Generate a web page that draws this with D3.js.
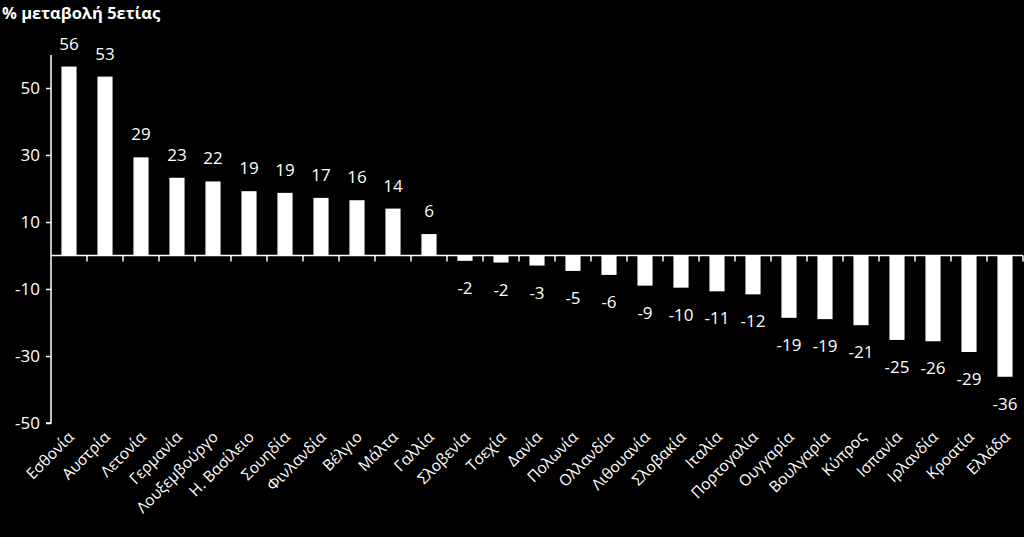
<!DOCTYPE html>
<html><head><meta charset="utf-8">
<script src="https://cdn.jsdelivr.net/npm/d3@7"></script>
<style>
html,body{margin:0;padding:0;background:#000;}
svg{display:block;}
text{font-family:"Open Sans",sans-serif;fill:#fff;}
</style></head>
<body>
<svg id="c" width="1024" height="537"></svg>
<script>
const categories = ["Εσθονία","Αυστρία","Λετονία","Γερμανία","Λουξεμβούργο","Η. Βασίλειο","Σουηδία","Φινλανδία","Βέλγιο","Μάλτα","Γαλλία","Σλοβενία","Τσεχία","Δανία","Πολωνία","Ολλανδία","Λιθουανία","Σλοβακία","Ιταλία","Πορτογαλία","Ουγγαρία","Βουλγαρία","Κύπρος","Ισπανία","Ιρλανδία","Κροατία","Ελλάδα"];
const values = [56.4,53.4,29.3,23.2,22.1,19.2,18.7,17.2,16.5,14.0,6.4,-1.6,-2.1,-3.0,-4.6,-5.8,-9.0,-9.6,-10.7,-11.6,-18.6,-19.0,-20.8,-25.2,-25.6,-28.8,-36.2];
const labels = ["56","53","29","23","22","19","19","17","16","14","6","-2","-2","-3","-5","-6","-9","-10","-11","-12","-19","-19","-21","-25","-26","-29","-36"];
const yTicks = [50,30,10,-10,-30,-50];
const title = "% μεταβολή 5ετίας";

const svg = d3.select("#c");
const x = d3.scaleBand().domain(categories).range([51,1023]).paddingInner(0.58).paddingOuter(0.29);
const y = d3.scaleLinear().domain([-50,50]).range([423,88]);

svg.append("text").attr("x",2).attr("y",19).attr("font-size",16.5).attr("font-weight","bold").text(title);

// y axis
const ya = svg.append("g").attr("transform","translate(51,0)")
  .call(d3.axisLeft(y).tickValues(yTicks).tickSize(5).tickPadding(6).tickFormat(d=>String(d)));
ya.select(".domain").attr("stroke","#fff").attr("stroke-width",1.5).attr("d","M-5,"+y(-50)+"H0V55");
ya.selectAll(".tick line").attr("stroke","#fff").attr("stroke-width",1.5);
ya.selectAll(".tick text").attr("fill","#fff").attr("font-size",17).attr("font-family","Open Sans");

// bars
svg.append("g").selectAll("rect").data(values).join("rect")
  .attr("x",(d,i)=>x(categories[i]))
  .attr("width",x.bandwidth())
  .attr("y",d=>y(Math.max(0,d)))
  .attr("height",d=>Math.abs(y(d)-y(0)))
  .attr("fill","#fff");

// x axis at zero
const step = x.step();
const xa = svg.append("g");
xa.append("line").attr("x1",51).attr("x2",1023).attr("y1",y(0)).attr("y2",y(0)).attr("stroke","#fff").attr("stroke-width",1.5);
xa.selectAll("line.t").data(d3.range(1,categories.length+1)).join("line").attr("class","t")
  .attr("x1",i=>51+i*step).attr("x2",i=>51+i*step).attr("y1",y(0)).attr("y2",y(0)+6)
  .attr("stroke","#fff").attr("stroke-width",1.5);

// value labels
svg.append("g").selectAll("text").data(values).join("text")
  .attr("x",(d,i)=>x(categories[i])+x.bandwidth()/2)
  .attr("y",d=> d>=0 ? y(d)-17 : y(d)+33)
  .attr("text-anchor","middle").attr("font-size",17)
  .text((d,i)=>labels[i]);

// category labels
svg.append("g").selectAll("text").data(categories).join("text")
  .attr("transform",(d)=>`translate(${x(d)+x.bandwidth()/2+6},${438}) rotate(-45)`)
  .attr("text-anchor","end").attr("font-size",15.5)
  .text(d=>d);
</script>
</body></html>
